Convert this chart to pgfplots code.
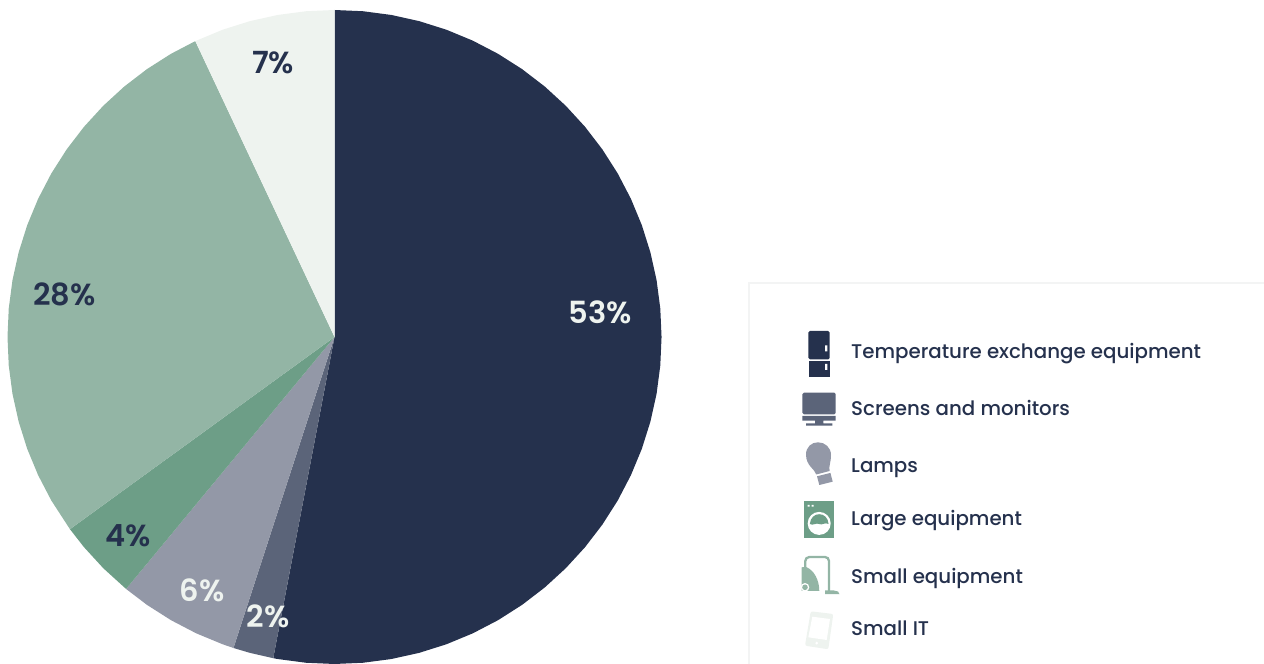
\documentclass[border=0pt]{standalone}
\usepackage{pgfplots}
\pgfplotsset{compat=1.18}
\usepackage{fontspec}
\setmainfont{Poppins}
\newfontfamily\legendfont{Poppins Medium}
\newfontfamily\pctfont{Poppins SemiBold}
\definecolor{navy}{HTML}{25314D}
\definecolor{slate}{HTML}{5B6479}
\definecolor{greyblue}{HTML}{9398A7}
\definecolor{sage}{HTML}{6D9E87}
\definecolor{mint}{HTML}{93B5A5}
\definecolor{pale}{HTML}{EEF3EF}
\definecolor{frameline}{HTML}{F3F4F4}
\newcommand{\pct}[4]{\node[text=#1,font=\fontsize{30.5}{31}\pctfont] at (#2,#3) {#4\%};}
\newcommand{\legenditem}[2]{\node[anchor=base west,inner sep=0pt,text=navy,font=\fontsize{19.8}{24}\legendfont] at (851,#1) {#2};}
\begin{document}
\begin{tikzpicture}
\useasboundingbox (0,0) rectangle (1264pt,664pt);
\begin{axis}[
  scale only axis, width=1264pt, height=664pt,
  xmin=-334.5, xmax=929.5, ymin=-327, ymax=337,
  hide axis,
]
% Shares, clockwise from twelve o'clock: 53, 2, 6, 4, 28, 7 per cent (3.6 degrees each)
\addplot[data cs=polar, fill=navy, draw=none] coordinates {(0,0)
 (90,327)(85,327)(80,327)(75,327)(70,327)(65,327)(60,327)(55,327)(50,327)(45,327)
 (40,327)(35,327)(30,327)(25,327)(20,327)(15,327)(10,327)(5,327)(0,327)
 (-5,327)(-10,327)(-15,327)(-20,327)(-25,327)(-30,327)(-35,327)(-40,327)(-45,327)
 (-50,327)(-55,327)(-60,327)(-65,327)(-70,327)(-75,327)(-80,327)(-85,327)(-90,327)
 (-95,327)(-100,327)(-100.8,327)} -- cycle;
\addplot[data cs=polar, fill=slate, draw=none] coordinates {(0,0)
 (-100.8,327)(-105,327)(-108,327)} -- cycle;
\addplot[data cs=polar, fill=greyblue, draw=none] coordinates {(0,0)
 (-108,327)(-110,327)(-115,327)(-120,327)(-125,327)(-129.6,327)} -- cycle;
\addplot[data cs=polar, fill=sage, draw=none] coordinates {(0,0)
 (-129.6,327)(-135,327)(-140,327)(-144,327)} -- cycle;
\addplot[data cs=polar, fill=mint, draw=none] coordinates {(0,0)
 (-144,327)(-150,327)(-155,327)(-160,327)(-165,327)(-170,327)(-175,327)(-180,327)
 (-185,327)(-190,327)(-195,327)(-200,327)(-205,327)(-210,327)(-215,327)(-220,327)
 (-225,327)(-230,327)(-235,327)(-240,327)(-244.8,327)} -- cycle;
\addplot[data cs=polar, fill=pale, draw=none] coordinates {(0,0)
 (-244.8,327)(-250,327)(-255,327)(-260,327)(-265,327)(-270,327)} -- cycle;
\end{axis}
% Everything below is placed in a y-down frame with one unit to the point
\begin{scope}[shift={(0pt,664pt)},x=1pt,y=-1pt]
\pct{pale}{600}{312}{53}
\pct{navy}{273}{63}{7}
\pct{navy}{64.5}{294}{28}
\pct{navy}{128}{536}{4}
\pct{pale}{202}{590}{6}
\pct{pale}{268}{616}{2}
% Legend panel, open towards the page edges
\draw[frameline,line width=2pt] (748.5,664) -- (748.5,283) -- (1264,283);
\legenditem{359}{Temperature exchange equipment}
\legenditem{416}{Screens and monitors}
\legenditem{473}{Lamps}
\legenditem{526}{Large equipment}
\legenditem{584}{Small equipment}
\legenditem{636}{Small IT}
% Refrigerator
\fill[navy,rounded corners=1.5pt] (808.3,359.3) -- (808.3,331) -- (829.7,331) -- (829.7,359.3) -- cycle;
\fill[navy] (809,361) rectangle (829.7,376.7);
\fill[white] (825,345.3) rectangle (827.3,351.3) (825,364) rectangle (827.3,370);
% Monitor
\fill[slate,rounded corners=1.5pt] (802.3,414.3) -- (802.3,392.7) -- (835.7,392.7) -- (835.7,414.3) -- cycle;
\fill[slate] (802.3,416) rectangle (835.7,420.7) (815,420.7) rectangle (823.3,423.3) (806,423.3) rectangle (832.3,425.7);
% Bulb
\fill[greyblue] (816.2,474.5) .. controls (815,469) and (806,466) .. (806,454.5)
  .. controls (806,447) and (811.5,442.3) .. (818,442.3)
  .. controls (825,442.3) and (831,447.5) .. (831,455)
  .. controls (831,463) and (828.5,466) .. (829.6,471) -- cycle;
\fill[greyblue] (817,476.3) -- (830.4,472.9) -- (832.7,481.7) -- (819.3,485) -- cycle;
% Washing machine
\fill[sage] (803.7,501) rectangle (834.3,538.3);
\fill[white] (807.5,504.8) rectangle (809.5,506.6) (811.5,504.8) rectangle (813.5,506.6);
\fill[white] (819.2,523.4) circle (11.5);
\fill[sage] (809.8,524) .. controls (810.5,517.5) and (814.5,514.2) .. (819.2,514.2)
  .. controls (824,514.2) and (828,517.5) .. (828.6,524)
  .. controls (825,522) and (822,525.5) .. (819.2,524)
  .. controls (816,522.5) and (813,526) .. (809.8,524) -- cycle;
% Vacuum cleaner
\fill[mint] (801.7,591) -- (801.7,567.3) -- (806,567) .. controls (814,570) and (819.3,580) .. (819.3,591) -- cycle;
\fill[white] (805,587.3) circle (4.3);
\fill[mint] (805,587.3) circle (2.8);
\draw[mint,line width=2.3pt,rounded corners=4pt] (805.3,568) -- (805.3,557) -- (829,557) -- (829,591);
\fill[mint] (825,594.2) -- (839.5,594.2) -- (838,591.5) -- (833,590.3) -- (825,590.3) -- cycle;
% Tablet
\fill[pale,rounded corners=2pt] (810.7,611.3) -- (833.3,614) -- (828.3,649.3) -- (805,645.7) -- cycle;
\fill[white] (812.3,616.7) -- (830,619) -- (826.7,640) -- (808.3,637.3) -- cycle;
\fill[white] (816.7,643.2) circle (1.5);
\end{scope}
\end{tikzpicture}
\end{document}
